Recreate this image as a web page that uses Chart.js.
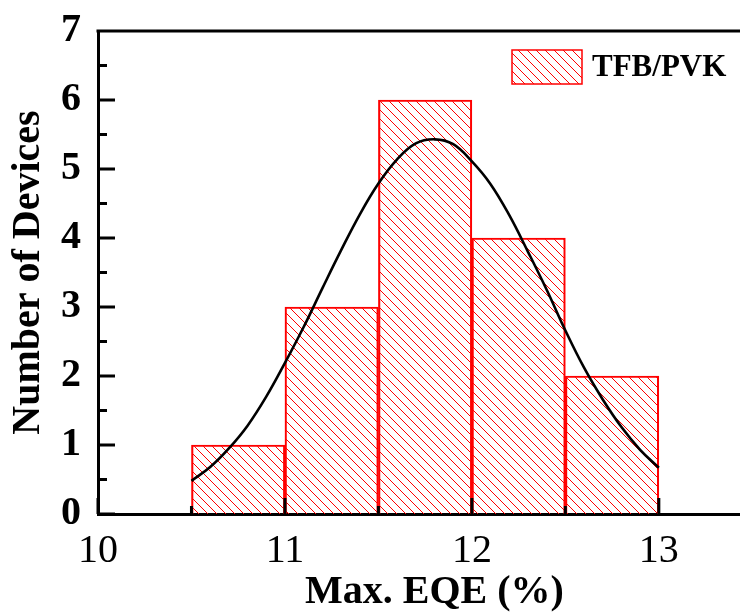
<!DOCTYPE html>
<html>
<head>
<meta charset="utf-8">
<script src="https://cdn.jsdelivr.net/npm/chart.js@4/dist/chart.umd.min.js"></script>
<style>
  html, body { margin: 0; padding: 0; background: #fff; overflow: hidden; }
  #wrap { width: 771px; height: 613px; }
</style>
</head>
<body>
<div id="wrap"><canvas id="myChart" width="771" height="613"></canvas></div>
<script>
// histogram bins (centres, width 0.5)
const binCenters = [10.75, 11.25, 11.75, 12.25, 12.75];
const counts = [1, 3, 6, 4, 2];

// gaussian fit curve
const fitX = [10.5, 10.6, 10.7, 10.8, 10.9, 11.0, 11.1, 11.2, 11.3, 11.4, 11.5, 11.6, 11.7,
              11.8, 11.9, 12.0, 12.1, 12.2, 12.3, 12.4, 12.5, 12.6, 12.7, 12.8, 12.9, 13.0];
const fitY = [0.48, 0.68, 0.95, 1.28, 1.70, 2.19, 2.71, 3.27, 3.82, 4.34, 4.79, 5.14, 5.37,
              5.43, 5.36, 5.11, 4.78, 4.33, 3.80, 3.25, 2.66, 2.12, 1.66, 1.26, 0.93, 0.67];

const xTicks = [10, 11, 12, 13];
const xMinor = [10.5, 11.5, 12.5];
const yTicks = [0, 1, 2, 3, 4, 5, 6, 7];
const yMinor = [0.5, 1.5, 2.5, 3.5, 4.5, 5.5, 6.5];

const serif = '"Liberation Serif", "Times New Roman", serif';
const ctx = document.getElementById('myChart').getContext('2d');

function makeHatch(){
    const s = 9;
    const c = document.createElement('canvas');
    c.width = s; c.height = s;
    const g = c.getContext('2d');
    g.strokeStyle = '#ff0000';
    g.lineWidth = 1;
    g.beginPath();
    g.moveTo(0, 0); g.lineTo(s, s);
    g.moveTo(-2, s - 2); g.lineTo(2, s + 2);
    g.moveTo(s - 2, -2); g.lineTo(s + 2, 2);
    g.stroke();
    return ctx.createPattern(c, 'repeat');
}
const hatch = makeHatch();

// inward ticks, top frame line and the legend
const decor = {
    id: 'decor',
    afterDraw(chart){
        const c = chart.ctx;
        const xs = chart.scales.x, ys = chart.scales.y;
        const area = chart.chartArea;
        c.save();
        c.strokeStyle = '#000';
        c.lineWidth = 3;
        c.beginPath();
        c.moveTo(area.left - 1.5, area.top);
        c.lineTo(area.right, area.top);
        yTicks.forEach(v => {
            const p = ys.getPixelForValue(v);
            c.moveTo(area.left, p); c.lineTo(area.left + 17, p);
        });
        yMinor.forEach(v => {
            const p = ys.getPixelForValue(v);
            c.moveTo(area.left, p); c.lineTo(area.left + 9, p);
        });
        xTicks.forEach(v => {
            const p = xs.getPixelForValue(v);
            c.moveTo(p, area.bottom); c.lineTo(p, area.bottom - 16);
        });
        xMinor.forEach(v => {
            const p = xs.getPixelForValue(v);
            c.moveTo(p, area.bottom); c.lineTo(p, area.bottom - 8);
        });
        c.stroke();

        // legend
        const ds = chart.data.datasets[1];
        c.fillStyle = hatch;
        c.fillRect(512, 50, 70, 34);
        c.strokeStyle = '#ff0000';
        c.lineWidth = 1.5;
        c.strokeRect(512, 50, 70, 34);
        c.fillStyle = '#000';
        c.font = 'bold 31px ' + serif;
        c.textBaseline = 'middle';
        c.textAlign = 'left';
        c.fillText(ds.label, 592, 68);
        c.restore();
    }
};

const chart = new Chart(ctx, {
    type: 'bar',
    data: {
        datasets: [{
            type: 'line',
            label: 'fit',
            data: fitX.map((x, i) => ({x: x, y: fitY[i]})),
            borderColor: '#000',
            borderWidth: 2.6,
            pointRadius: 0,
            tension: 0.4,
            fill: false,
            order: 0
        }, {
            type: 'bar',
            label: 'TFB/PVK',
            data: binCenters.map((x, i) => ({x: x, y: counts[i]})),
            backgroundColor: hatch,
            borderColor: '#ff0000',
            borderWidth: 1.5,
            barPercentage: 1,
            categoryPercentage: 1,
            order: 1
        }]
    },
    options: {
        responsive: false,
        animation: false,
        layout: { padding: { top: 31, left: 0, right: 0, bottom: 0 } },
        plugins: { legend: { display: false }, tooltip: { enabled: false } },
        scales: {
            x: {
                type: 'linear',
                min: 10,
                max: 13.6,
                offset: false,
                grid: { display: false, drawTicks: false },
                border: { display: true, color: '#000', width: 3 },
                afterBuildTicks: s => { s.ticks = xTicks.map(v => ({value: v})); },
                afterFit: s => { s.height = 99; s.paddingLeft = 0; s.paddingRight = 0; },
                ticks: { color: '#000', padding: 13, font: { family: serif, size: 40 } },
                title: {
                    display: true, text: 'Max. EQE (%)', color: '#000',
                    padding: 0, font: { family: serif, size: 40, weight: 'bold', lineHeight: 1 }
                }
            },
            y: {
                min: 0,
                max: 7,
                grid: { display: false, drawTicks: false },
                border: { display: true, color: '#000', width: 3 },
                afterBuildTicks: s => { s.ticks = yTicks.map(v => ({value: v})); },
                afterFit: s => { s.width = 98; s.paddingTop = 0; s.paddingBottom = 0; },
                ticks: { color: '#000', padding: 17, font: { family: serif, size: 40, weight: 'bold' } },
                title: {
                    display: true, text: 'Number of Devices', color: '#000',
                    padding: { top: 9, bottom: 0 }, font: { family: serif, size: 40, weight: 'bold', lineHeight: 1 }
                }
            }
        }
    },
    plugins: [decor]
});
</script>
</body>
</html>
